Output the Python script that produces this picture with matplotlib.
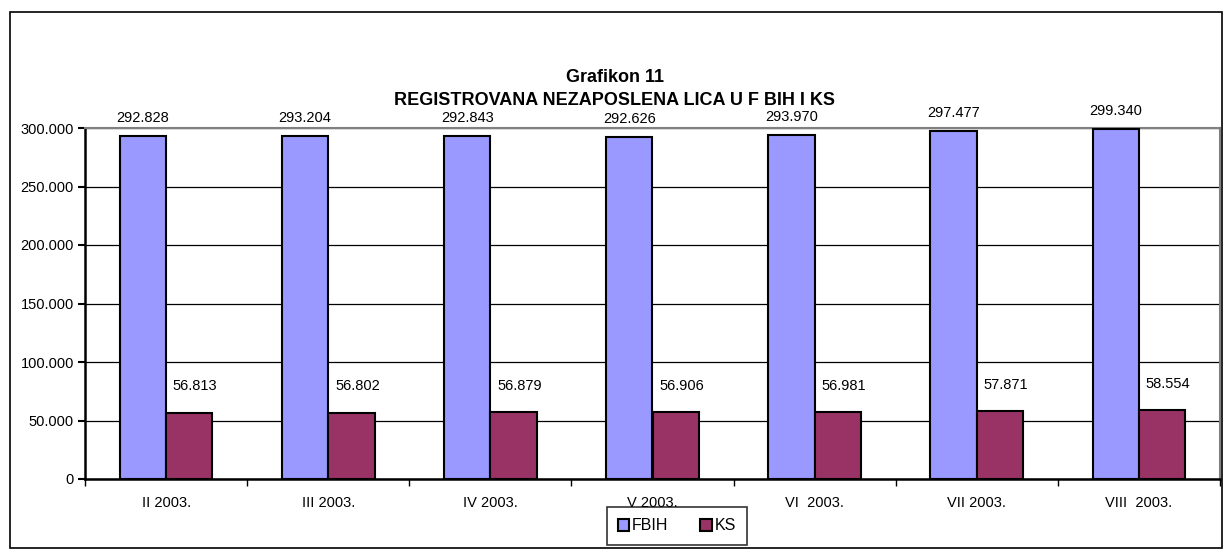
import matplotlib.pyplot as plt
import matplotlib.patches as mpatches
from matplotlib.ticker import FuncFormatter

plt.rcParams['font.family'] = ['Liberation Sans', 'DejaVu Sans']

months = ['II 2003.', 'III 2003.', 'IV 2003.', 'V 2003.',
          'VI  2003.', 'VII 2003.', 'VIII  2003.']
fbih = [292828, 293204, 292843, 292626, 293970, 297477, 299340]
ks = [56813, 56802, 56879, 56906, 56981, 57871, 58554]


def dotted(v):
    return f"{v:,.0f}".replace(",", ".")


fig = plt.figure(figsize=(12.26, 5.51), dpi=100)
ax = fig.add_axes([85 / 1226, 72 / 551, 1135 / 1226, 351 / 551])

w = 0.2857
x = list(range(len(months)))
b1 = ax.bar([i - w / 2 for i in x], fbih, w, color='#9999FF',
            edgecolor='black', linewidth=1.5, label='FBIH', zorder=3)
b2 = ax.bar([i + w / 2 for i in x], ks, w, color='#993366',
            edgecolor='black', linewidth=1.5, label='KS', zorder=3)

for rect, v in zip(b1, fbih):
    ax.annotate(dotted(v), (rect.get_x() + rect.get_width() / 2, v),
                xytext=(0, 13), textcoords='offset points',
                ha='center', va='center', fontsize=10.5)
for rect, v in zip(b2, ks):
    ax.annotate(dotted(v), (rect.get_x() + rect.get_width() / 2 + 6 / 162, v),
                xytext=(0, 19), textcoords='offset points',
                ha='center', va='center', fontsize=10.5)

ax.set_xlim(-0.5, len(months) - 0.5)
ax.set_ylim(0, 300000)
ax.set_yticks(range(0, 300001, 50000))
ax.yaxis.set_major_formatter(FuncFormatter(lambda v, p: dotted(v)))
ax.set_xticks(x)
ax.set_xticklabels(months)
ax.set_xticks([i - 0.5 for i in range(len(months) + 1)], minor=True)
ax.tick_params(axis='x', which='major', length=0, labelsize=10.5, pad=12)
ax.tick_params(axis='x', which='minor', length=5, width=1, direction='out')
ax.tick_params(axis='y', length=5, width=1.5, labelsize=10.5, pad=3)

ax.yaxis.grid(True, color='black', linewidth=0.9, zorder=0)
ax.set_axisbelow(True)
for s in ['top', 'right']:
    ax.spines[s].set_color('#808080')
    ax.spines[s].set_linewidth(1.5)
ax.spines['left'].set_linewidth(1.8)
ax.spines['bottom'].set_linewidth(1.8)

fig.text(0.5016, 1 - 78 / 551, 'Grafikon 11',
         ha='center', va='center', fontsize=13, fontweight='bold')
fig.text(0.5016, 1 - 100 / 551, 'REGISTROVANA NEZAPOSLENA LICA U F BIH I KS',
         ha='center', va='center', fontsize=13, fontweight='bold')

leg = fig.legend(handles=[b1, b2], loc='center', bbox_to_anchor=(677 / 1226, 1 - 526 / 551),
                 ncol=2, frameon=True, fancybox=False, edgecolor='black',
                 fontsize=11.5, handlelength=0.7, handleheight=0.7,
                 handletextpad=0.2, columnspacing=2.0, borderpad=0.7)
leg.get_frame().set_linewidth(1.2)

fig.patches.append(mpatches.Rectangle((10 / 1226, 3 / 551), 1212 / 1226, 536 / 551,
                                      transform=fig.transFigure, fill=False,
                                      edgecolor='black', linewidth=1.2))

fig.savefig('out.png', dpi=100)
